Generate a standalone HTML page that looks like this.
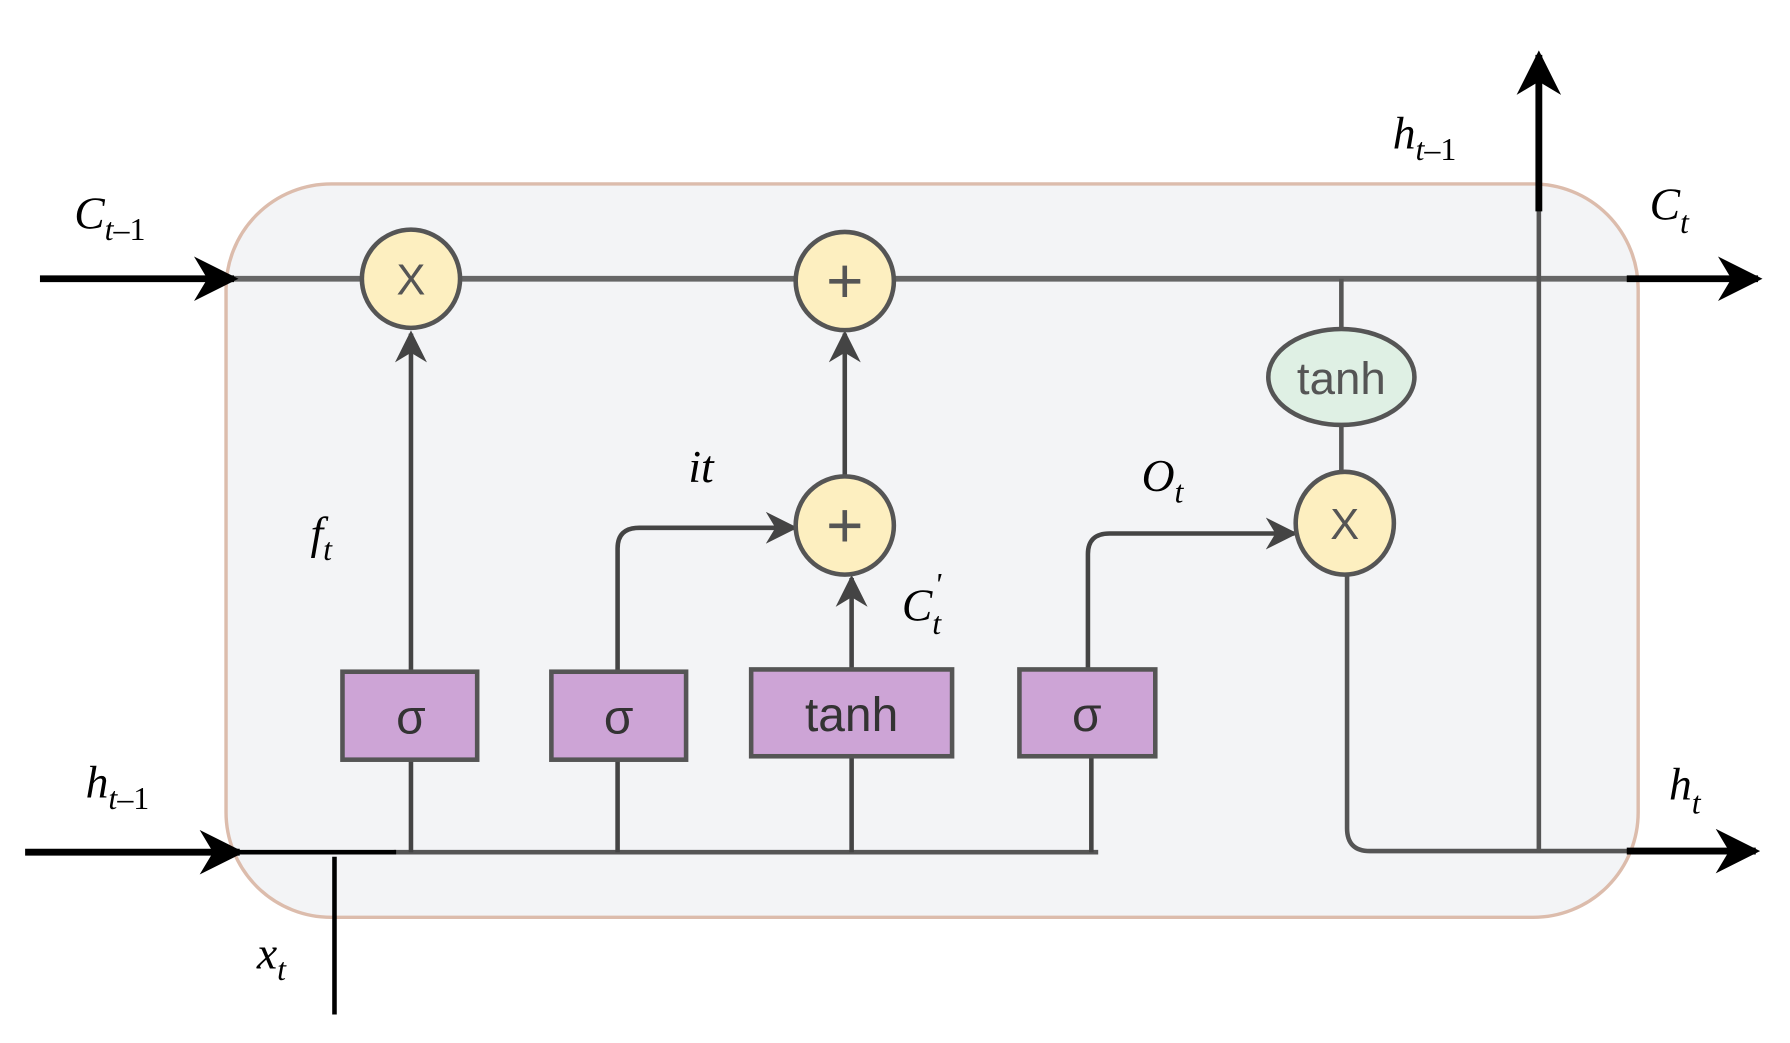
<!DOCTYPE html>
<html><head><meta charset="utf-8"><style>html,body{margin:0;padding:0;background:#fff}svg{display:block}</style></head>
<body>
<svg width="1790" height="1043" viewBox="0 0 1568 913" preserveAspectRatio="none" xmlns="http://www.w3.org/2000/svg">
<defs>
<marker id="ab" viewBox="0 0 10 10" refX="9" refY="5" markerWidth="6.5" markerHeight="6.5" orient="auto" markerUnits="strokeWidth"><path d="M0,0 L10,5 L0,10 L3,5 z" fill="#000"/></marker>
<marker id="ag" viewBox="0 0 10 10" refX="9" refY="5" markerWidth="7" markerHeight="7" orient="auto" markerUnits="strokeWidth"><path d="M0,0 L10,5 L0,10 L3,5 z" fill="#444"/></marker>
</defs>
<rect x="198" y="161" width="1237" height="642" rx="92" fill="#f3f4f6" stroke="#dcbcac" stroke-width="3"/>
<g fill="none" stroke-linecap="butt">
<line x1="200" y1="244" x2="1430" y2="244" stroke="#666" stroke-width="5"/>
<line x1="35" y1="244" x2="205" y2="244" stroke="#000" stroke-width="6" marker-end="url(#ab)"/>
<line x1="1425" y1="244" x2="1540" y2="244" stroke="#000" stroke-width="6" marker-end="url(#ab)"/>
<line x1="345" y1="746" x2="962" y2="746" stroke="#555" stroke-width="4"/>
<line x1="22" y1="746" x2="210" y2="746" stroke="#000" stroke-width="6" marker-end="url(#ab)"/>
<line x1="200" y1="746" x2="347" y2="746" stroke="#000" stroke-width="4"/>
<line x1="293" y1="750" x2="293" y2="888" stroke="#000" stroke-width="4"/>
<line x1="360" y1="746" x2="360" y2="665" stroke="#444" stroke-width="4"/>
<line x1="360" y1="588" x2="360" y2="292" stroke="#444" stroke-width="4" marker-end="url(#ag)"/>
<line x1="541" y1="746" x2="541" y2="665" stroke="#444" stroke-width="4"/>
<path d="M541,588 V480 Q541,462 560,462 H696" stroke="#444" stroke-width="4" marker-end="url(#ag)"/>
<line x1="746" y1="746" x2="746" y2="662" stroke="#444" stroke-width="4"/>
<line x1="746" y1="586" x2="746" y2="506" stroke="#444" stroke-width="4" marker-end="url(#ag)"/>
<line x1="740" y1="417" x2="740" y2="292" stroke="#444" stroke-width="4" marker-end="url(#ag)"/>
<line x1="956" y1="746" x2="956" y2="662" stroke="#444" stroke-width="4"/>
<path d="M953,586 V485 Q953,467 972,467 H1134" stroke="#444" stroke-width="4" marker-end="url(#ag)"/>
<line x1="1175" y1="244" x2="1175" y2="290" stroke="#555" stroke-width="4"/>
<line x1="1175" y1="372" x2="1175" y2="415" stroke="#555" stroke-width="4"/>
<path d="M1180,502 V725 Q1180,745 1200,745 H1430" stroke="#555" stroke-width="4"/>
<line x1="1425" y1="745" x2="1538" y2="745" stroke="#000" stroke-width="6" marker-end="url(#ab)"/>
<line x1="1348" y1="745" x2="1348" y2="175" stroke="#555" stroke-width="4"/>
<line x1="1348" y1="185" x2="1348" y2="48" stroke="#000" stroke-width="6" marker-end="url(#ab)"/>
</g>
<g stroke="#555" stroke-width="4">
<circle cx="360" cy="244" r="43" fill="#fdefc0"/>
<circle cx="740" cy="246" r="43" fill="#fdefc0"/>
<circle cx="740" cy="460" r="43" fill="#fdefc0"/>
<ellipse cx="1178" cy="458" rx="43" ry="45" fill="#fdefc0"/>
<ellipse cx="1175" cy="330" rx="64" ry="42" fill="#dff0e4"/>
<rect x="300" y="588" width="118" height="77" fill="#cda4d6"/>
<rect x="483" y="588" width="118" height="77" fill="#cda4d6"/>
<rect x="658" y="586" width="176" height="76" fill="#cda4d6"/>
<rect x="893" y="586" width="119" height="76" fill="#cda4d6"/>
</g>
<g font-family="Liberation Sans, sans-serif" fill="#555" text-anchor="middle">
<text x="360" y="258" font-size="38">X</text>
<text x="740" y="265" font-size="56">+</text>
<text x="740" y="479" font-size="56">+</text>
<text x="1178" y="472" font-size="38">X</text>
<text x="1175" y="345" font-size="40">tanh</text>
<text x="360" y="642" font-size="42" fill="#333">σ</text>
<text x="542" y="642" font-size="42" fill="#333">σ</text>
<text x="746" y="640" font-size="42" fill="#333">tanh</text>
<text x="952" y="640" font-size="42" fill="#333">σ</text>
</g>
<g font-family="Liberation Serif, serif" font-style="italic" font-size="40" fill="#000">
<text x="65" y="200">C<tspan font-size="28" dy="10">t</tspan><tspan font-size="28" font-style="normal">–1</tspan></text>
<text x="75" y="698">h<tspan font-size="28" dy="10">t</tspan><tspan font-size="28" font-style="normal">–1</tspan></text>
<text x="225" y="848">x<tspan font-size="28" dy="10">t</tspan></text>
<text x="272" y="480">f<tspan font-size="28" dy="10">t</tspan></text>
<text x="603" y="422">it</text>
<text x="790" y="543">C<tspan font-size="28" dy="12">t</tspan><tspan font-size="28" dx="-6" dy="-34">'</tspan></text>
<text x="1000" y="430">O<tspan font-size="28" dy="10">t</tspan></text>
<text x="1220" y="130">h<tspan font-size="28" dy="10">t</tspan><tspan font-size="28" font-style="normal">–1</tspan></text>
<text x="1445" y="192">C<tspan font-size="28" dy="12">t</tspan></text>
<text x="1462" y="700">h<tspan font-size="28" dy="12">t</tspan></text>
</g>
</svg>
</body></html>
